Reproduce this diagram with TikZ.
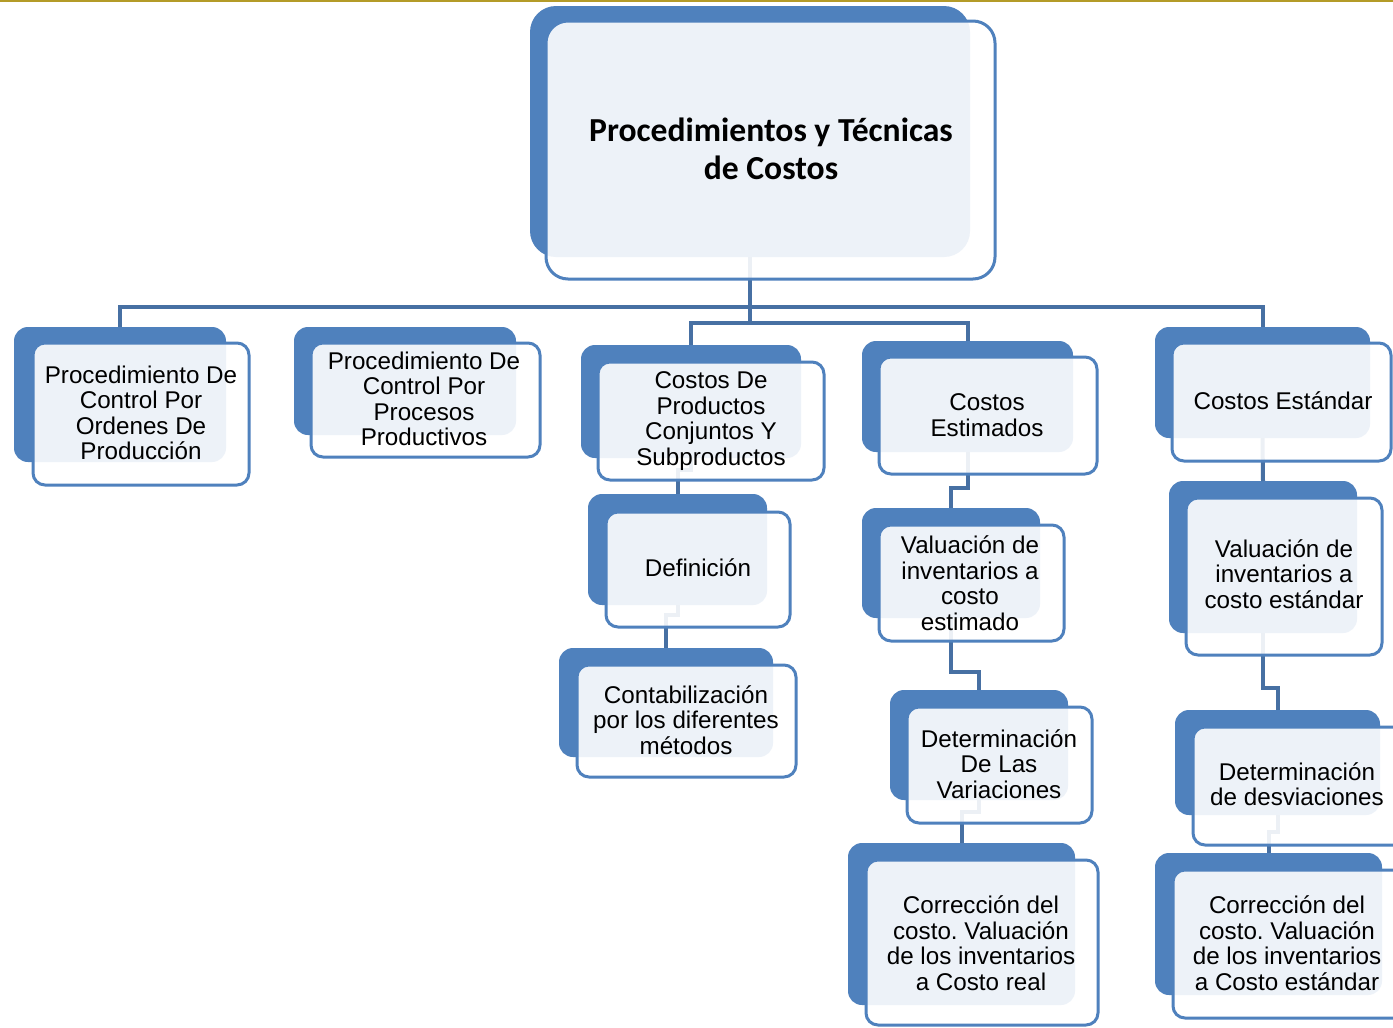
\documentclass[tikz,border=0pt]{standalone}
\usepackage{fontspec}
\setmainfont{Liberation Sans}
\newfontfamily\titlefont{Carlito}
\frenchspacing
\definecolor{bk}{RGB}{79,129,189}
\definecolor{ln}{RGB}{71,112,163}
\definecolor{goldline}{RGB}{180,155,40}
\tikzset{
 backbox/.style={fill=bk, draw=none, rounded corners=14pt, inner sep=0pt, outer sep=0pt},
 frontbox/.style={draw=bk, line width=3pt, fill=white, fill opacity=0.9, rounded corners=12pt, inner sep=0pt, outer sep=0pt},
 lbl/.style={align=center, font=\fontsize{24.2}{25.5}\selectfont, inner sep=0pt, text=black},
 conn/.style={draw=ln, line width=4pt},
}
\newcommand\mkback[6][]{\node[backbox,#1, minimum width={#5-#3}, minimum height={#6-#4}] (#2) at ({(#3+#5)/2},{(#4+#6)/2}) {};}
\newcommand\mkfront[6][]{\node[frontbox,#1, minimum width={#5-#3}, minimum height={#6-#4}] (#2) at ({(#3+#5)/2},{(#4+#6)/2}) {};}
\begin{document}
\begin{tikzpicture}[x=1pt,y=-1pt]
\useasboundingbox (0,0) rectangle (1393,1028);
\fill[white] (0,0) rectangle (1393,1028);
\clip (0,0) rectangle (1393,1028);
\draw[goldline, line width=2.5pt] (0,1) -- (1393,1);
% back boxes
\mkback[rounded corners=26pt]{R}{530}{6}{970}{257}
\mkback{B1}{14}{327}{226}{462}
\mkback{B2}{294}{327}{516}{435}
\mkback{B3}{581}{345}{801}{458}
\mkback{B4}{862}{341}{1073}{452}
\mkback{B5}{1155}{327}{1370}{438}
\mkback{C1}{588}{494}{767}{605}
\mkback{C2}{559}{648}{773}{757}
\mkback{D1}{862}{508}{1040}{618}
\mkback{D2}{890}{690}{1068}{800}
\mkback{D3}{848}{843}{1075}{1005}
\mkback{E1}{1169}{481}{1357}{633}
\mkback{E2}{1175}{710}{1380}{815}
\mkback{E3}{1155}{853}{1382}{995}
% connectors
\draw[conn] (R.south) -- ++(0,50) -| (B1.north);
\draw[conn] (R.south) -- ++(0,50) -| (B5.north);
\draw[conn] (R.south) -- ++(0,66) -| (B3.north);
\draw[conn] (R.south) -- ++(0,66) -| (B4.north);
\draw[conn] (B3.south) -- ++(0,12) -| (C1.north);
\draw[conn] (C1.south) -- ++(0,10) -| (C2.north);
\draw[conn] (B4.south) -- ++(0,36) -| (D1.north);
\draw[conn] (D1.south) -- ++(0,54) -| (D2.north);
\draw[conn] (D2.south) -- ++(0,12) -| (D3.north);
\draw[conn] (B5.south) -- (E1.north);
\draw[conn] (E1.south) -- ++(0,55) -| (E2.north);
\draw[conn] (E2.south) -- ++(0,17) -| (E3.north);
% front boxes
\mkfront[rounded corners=22pt]{Rf}{546}{21}{995}{279}
\mkfront{B1f}{33}{343}{249}{485}
\mkfront{B2f}{311}{343}{540}{457}
\mkfront{B3f}{598}{362}{824}{480}
\mkfront{B4f}{879}{357}{1097}{474}
\mkfront{B5f}{1172}{343}{1391}{461}
\mkfront{C1f}{606}{512}{790}{627}
\mkfront{C2f}{577}{665}{796}{777}
\mkfront{D1f}{879}{525}{1064}{641}
\mkfront{D2f}{907}{707}{1092}{823}
\mkfront{D3f}{866}{860}{1098}{1025}
\mkfront{E1f}{1186}{498}{1382}{655}
\mkfront{E2f}{1193}{727}{1415}{845}
\mkfront{E3f}{1173}{870}{1415}{1018}
% labels
\node[align=center, inner sep=0pt, font={\titlefont\bfseries\fontsize{33.6}{38}\selectfont}] (Rt) at (771,149) {Procedimientos y Técnicas\\de Costos};
\node[lbl] (B1t) at (141,413) {Procedimiento De\\Control Por\\Ordenes De\\Producción};
\node[lbl] (B2t) at (424,399) {Procedimiento De\\Control Por\\Procesos\\Productivos};
\node[lbl] (B3t) at (711,421) {Costos De\\Productos\\Conjuntos Y\\Subproductos};
\node[lbl] (B4t) at (987,415) {Costos\\Estimados};
\node[lbl] (B5t) at (1283,401) {Costos Estándar};
\node[lbl] (C1t) at (698,568) {Definición};
\node[lbl] (C2t) at (686,720) {Contabilización\\por los diferentes\\métodos};
\node[lbl] (D1t) at (970,583) {Valuación de\\inventarios a\\costo\\estimado};
\node[lbl] (D2t) at (999,764) {Determinación\\De Las\\Variaciones};
\node[lbl] (D3t) at (981,943) {Corrección del\\costo. Valuación\\de los inventarios\\a Costo real};
\node[lbl] (E1t) at (1284,574) {Valuación de\\inventarios a\\costo estándar};
\node[lbl] (E2t) at (1297,784) {Determinación\\de desviaciones};
\node[lbl] (E3t) at (1287,943) {Corrección del\\costo. Valuación\\de los inventarios\\a Costo estándar};
\end{tikzpicture}
\end{document}
